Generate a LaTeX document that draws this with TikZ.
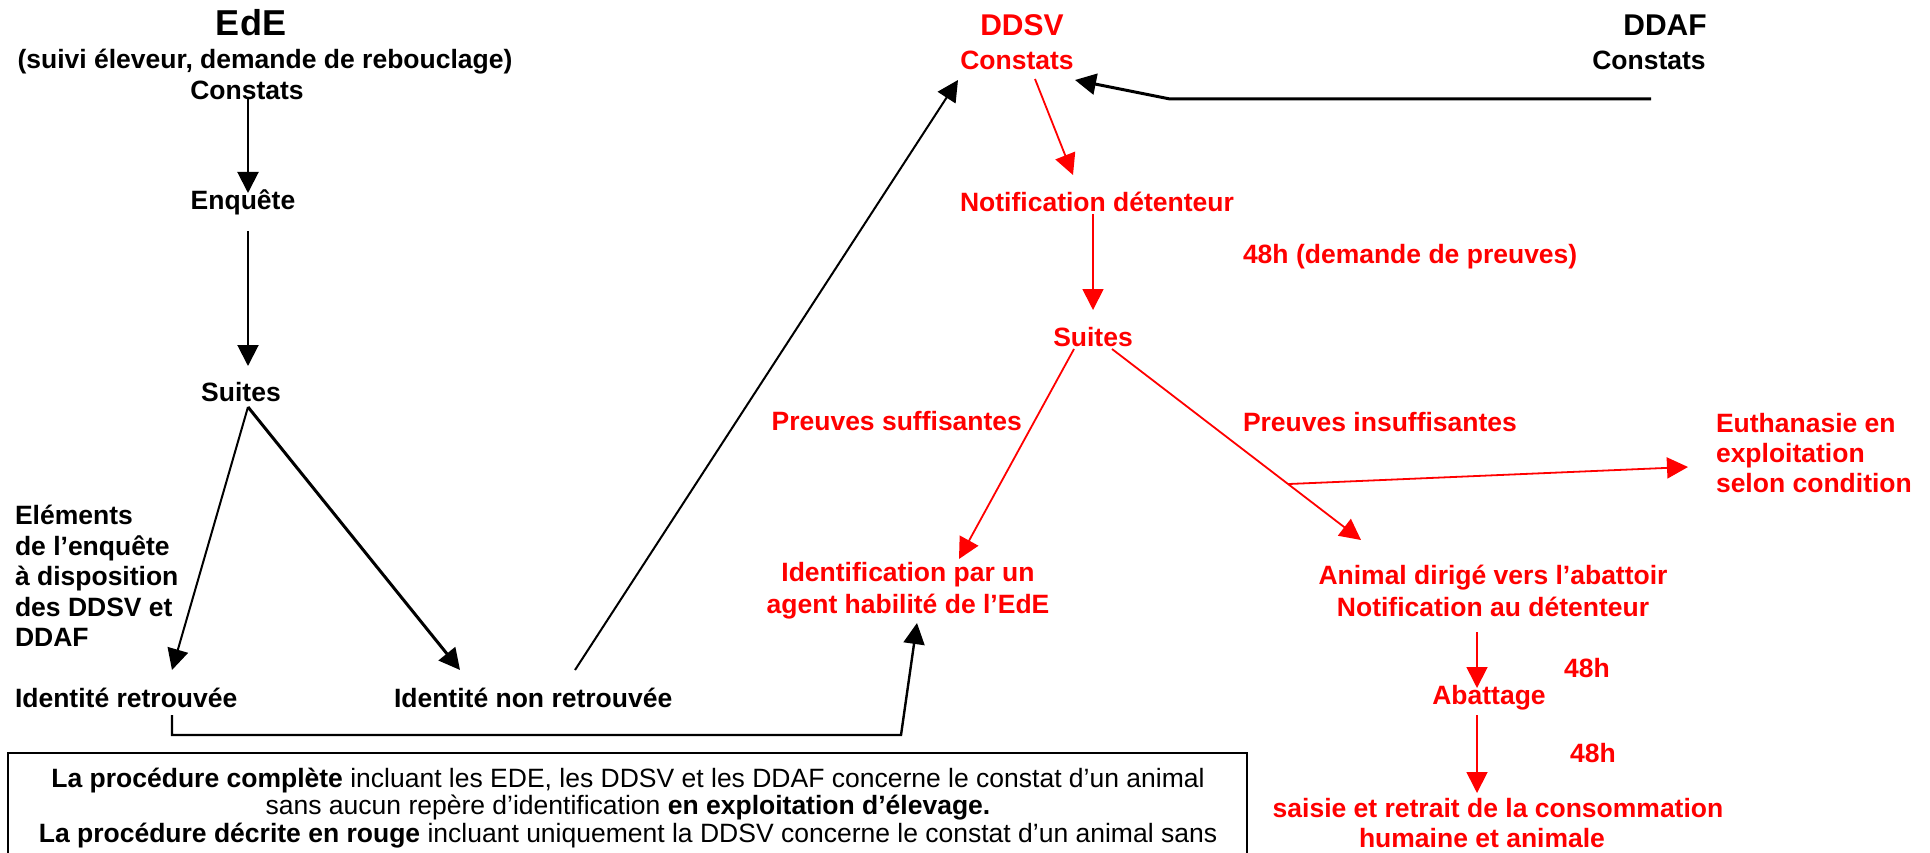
\documentclass[tikz,border=0pt]{standalone}
\usepackage{fontspec}
\setmainfont{Liberation Sans}
\usetikzlibrary{arrows.meta,calc}
\begin{document}
\begin{tikzpicture}[x=1pt,y=-1pt,
  txt/.style={inner sep=0pt,outer sep=0pt,font=\bfseries\fontsize{26.5}{30.5}\selectfont},
  big/.style={inner sep=0pt,outer sep=0pt,font=\bfseries\fontsize{30}{34}\selectfont},
  rt/.style={text=red},
  barr/.style={draw=black,line width=2pt,-{Triangle[length=21pt,width=21pt]}},
  bthick/.style={draw=black,line width=3pt,-{Triangle[length=21pt,width=21pt]}},
  rarr/.style={draw=red,line width=1.8pt,-{Triangle[length=21pt,width=21pt]}}
]
\useasboundingbox (0,0) rectangle (1930,853);
\fill[white] (0,0) rectangle (1930,853);
\clip (0,0) rectangle (1930,853);

% EdE column
\node[txt,font=\bfseries\fontsize{36}{40}\selectfont] (ede) at (251,23) {EdE};
\node[txt] (suivi) at (265,62) {(suivi éleveur, demande de rebouclage)};
\node[txt] (cA) at (247,90) {Constats};
\node[txt] (enq) at (243,202) {Enquête};
\node[txt] (suA) at (241,392) {Suites};
\node[txt,align=left,anchor=west,font=\bfseries\fontsize{26.5}{30.5}\selectfont] (elem) at (15,576) {Eléments\\de l’enquête\\à disposition\\des DDSV et\\DDAF};
\node[txt,anchor=west] (idr) at (15,698) {Identité retrouvée};
\node[txt,anchor=west] (idnr) at (394,698) {Identité non retrouvée};

% DDSV / DDAF
\node[big,rt] (ddsv) at (1022,25) {DDSV};
\node[txt,rt] (cB) at (1017,60) {Constats};
\node[big] (ddaf) at (1665,25) {DDAF};
\node[txt] (cC) at (1649,60) {Constats};
\node[txt,rt] (notif) at (1097,202) {Notification détenteur};
\node[txt,rt,anchor=west] (h48a) at (1243,257) {48h (demande de preuves)};
\node[txt,rt] (suB) at (1093,337) {Suites};
\node[txt,rt,anchor=east] (psuf) at (1022,421) {Preuves suffisantes};
\node[txt,rt,anchor=west] (pins) at (1243,422) {Preuves insuffisantes};
\node[txt,rt,anchor=west,align=left,font=\bfseries\fontsize{26.5}{30}\selectfont] (euth) at (1716,453) {Euthanasie en\\exploitation\\selon condition};
\node[txt,rt,align=center,font=\bfseries\fontsize{26.5}{32}\selectfont] (ident) at (908,591) {Identification par un\\agent habilité de l’EdE};
\node[txt,rt,align=center,font=\bfseries\fontsize{26.5}{32}\selectfont] (animal) at (1493,591) {Animal dirigé vers l’abattoir\\Notification au détenteur};
\node[txt,rt] (h48b) at (1587,668) {48h};
\node[txt,rt] (abat) at (1489,698) {Abattage};
\node[txt,rt] (h48c) at (1593,753) {48h};
\node[txt,rt,align=center,font=\bfseries\fontsize{26.5}{30}\selectfont] (saisie) at (1498,823) {saisie et retrait de la consommation\\humaine et animale\hspace*{32pt}};

% note box
\draw[line width=1.2pt] (8,753) rectangle (1247,900);
\node[inner sep=0pt,align=center,font=\fontsize{26.5}{27.5}\selectfont] (note) at (628,808) {\textbf{La procédure complète} incluant les EDE, les DDSV et les DDAF concerne le constat d’un animal\\sans aucun repère d’identification \textbf{en exploitation d’élevage.}\\\textbf{La procédure décrite en rouge} incluant uniquement la DDSV concerne le constat d’un animal sans};

% black connectors
\draw[barr] ($(cA)+(1,7)$) -- ($(enq)+(5,-9)$);
\draw[barr] ($(enq)+(5,29)$) -- ($(suA)+(7,-26)$);
\draw[barr] ($(suA)+(7,15)$) -- ($(idr.west)+(157,-28)$);
\draw[bthick] ($(suA)+(7,15)$) -- ($(idnr.west)+(66,-28)$);
\draw[barr] ($(idnr.west)+(181,-28)$) -- ($(cB)+(-59,20)$);
\draw[barr,line width=2.4pt] ($(idr.west)+(157,17)$) -- ($(idr.west)+(157,37)$) -- ($(ident)+(-7,144)$) -- ($(ident)+(9,32)$);
\draw[bthick] ($(cC)+(2,39)$) -- ($(cC)+(-479,39)$) -- ($(cB)+(58,20)$);

% red connectors
\draw[rarr] ($(cB)+(18,19)$) -- ($(notif)+(-24,-27)$);
\draw[rarr] ($(notif)+(-4,12)$) -- ($(suB)+(0,-27)$);
\draw[rarr] ($(suB)+(-19,12)$) -- ($(ident)+(51,-32)$);
\draw[rarr] ($(suB)+(19,12)$) -- coordinate[pos=0.707] (fork) ($(animal)+(-132,-51)$);
\draw[rarr] (fork) -- ($(euth.west)+(-28,14)$);
\draw[rarr] ($(animal)+(-16,41)$) -- ($(abat)+(-12,-10)$);
\draw[rarr] ($(abat)+(-12,17)$) -- ($(saisie)+(-21,-30)$);
\end{tikzpicture}
\end{document}
